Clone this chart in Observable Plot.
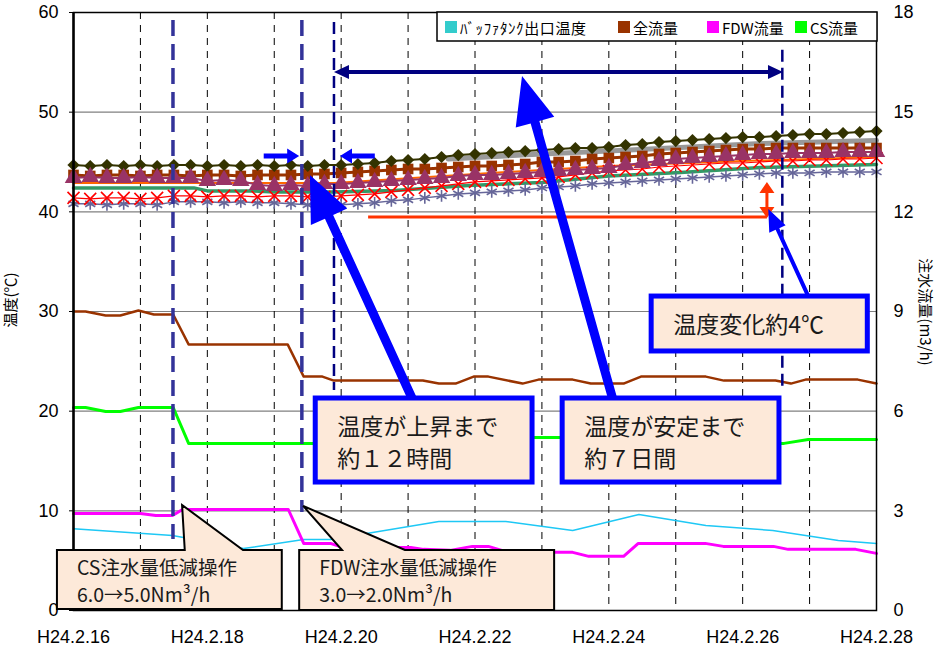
<!DOCTYPE html>
<html><head><meta charset="utf-8">
<script src="https://cdn.jsdelivr.net/npm/d3@7"></script>
<script src="https://cdn.jsdelivr.net/npm/@observablehq/plot@0.6"></script>
<style>body{margin:0;background:#fff;} #chart{width:939px;height:650px;}</style>
</head><body><div id="chart"></div>
<script>
// ---------- data ----------
const xTickDays = [0, 2, 4, 6, 8, 10, 12];
const xTickLabels = ["H24.2.16","H24.2.18","H24.2.20","H24.2.22","H24.2.24","H24.2.26","H24.2.28"];
const gridDays = [1,2,3,4,5,6,7,8,9,10,11];
const tempTicks = [0,10,20,30,40,50,60];
const gridTemps = [10,20,30,40,50];
const flowTicks = [0,3,6,9,12,15,18];

// in-core temperatures, sampled every 6 h from 2/16 0:00 (°C)
const oliveTemp = [44.7,44.6,44.7,44.6,44.7,44.6,44.7,44.7,44.6,44.7,44.6,44.7,44.6,44.7,44.6,44.7,
 44.7,44.8,44.9,45.1,45.2,45.3,45.5,45.7,45.8,45.9,46.0,46.1,46.2,46.3,46.4,46.4,46.5,46.7,46.8,47.0,47.1,47.2,47.3,47.4,47.5,47.5,47.6,47.7,47.8,47.8,47.9,48.0,48.1];
const brownTemp = [43.7,43.6,43.7,43.7,43.6,43.7,43.7,43.6,43.7,43.7,43.6,43.7,43.7,43.7,43.8,43.8,
 43.9,44.0,44.1,44.2,44.3,44.3,44.4,44.5,44.6,44.6,44.7,44.8,45.0,45.0,45.1,45.3,45.4,45.5,45.6,45.8,45.9,46.0,46.1,46.2,46.3,46.3,46.4,46.4,46.4,46.4,46.4,46.4,46.4];
const purpleTemp = [43.4,43.5,43.4,43.4,43.5,43.4,43.4,43.4,43.1,43.2,43.1,42.7,42.6,42.7,42.6,42.8,
 42.8,42.9,43.0,43.1,43.2,43.3,43.4,43.6,43.7,43.7,43.8,43.9,44.0,44.1,44.2,44.3,44.4,44.7,44.9,45.1,45.3,45.4,45.5,45.6,45.7,45.8,45.8,45.9,45.9,45.9,46.0,46.0,46.0];
const redTemp = [41.4,41.3,41.4,41.4,41.3,41.4,41.6,41.6,41.5,41.6,41.6,41.5,41.6,41.6,41.5,41.5,
 41.6,41.7,41.8,42.0,42.2,42.4,42.6,42.8,43.0,43.1,43.2,43.3,43.4,43.5,43.7,43.9,44.1,44.2,44.3,44.5,44.6,44.7,44.8,44.9,44.9,45.0,45.1,45.1,45.2,45.2,45.3,45.3,45.4];
const slateTemp = [40.8,40.8,40.7,40.8,40.8,40.7,41.0,41.0,41.0,40.9,41.0,40.9,40.9,40.8,40.7,40.7,
 40.7,40.8,40.9,41.1,41.2,41.4,41.6,41.8,41.9,42.0,42.1,42.2,42.4,42.5,42.6,42.8,42.9,43.0,43.1,43.2,43.3,43.4,43.5,43.6,43.7,43.8,43.9,43.9,43.9,44.0,44.0,44.0,44.0];

const seaGreenDays = [0,1.8,2.0,2.7,3.0,3.9,4.8,5.9,7.0,8.0,9.07,10.27,12];
const seaGreenTemp = [42.4,42.4,42.1,42.1,42.0,42.0,42.15,42.65,42.95,43.6,43.95,44.45,44.75];
const orangeDays = [0,3.9,6,8,10,12];
const orangeTemp = [42.9,42.9,43.8,44.6,45.1,45.5];
const grayDays = [5.6,7,8,9.07,10.27,12];
const grayTemp = [45.3,45.8,46.1,46.45,46.85,47.15];

// buffer tank outlet temperature (°C)
const bufferDays = [0,1.48,2.54,3.44,3.84,5.46,6.46,7.46,8.45,9.45,10.45,11.43,12];
const bufferTemp = [8.2,7.52,6.22,7.12,7.12,8.93,8.93,8.03,9.63,8.53,8.03,7.02,6.72];

// flows (m3/h)
const totalDays = [0,0.18,0.48,0.7,0.97,1.2,1.49,1.72,3.2,3.44,3.72,3.89,5.22,5.46,5.71,5.98,6.2,6.71,6.95,7.46,7.73,8.22,8.48,9.45,9.72,10.49,10.72,10.94,11.72,12];
const totalFlow = [9.0,9.0,8.88,8.88,9.03,8.91,8.91,8.01,8.01,7.04,7.04,6.92,6.92,6.83,6.83,7.04,7.04,6.83,6.95,6.95,6.83,6.83,7.04,7.04,6.92,6.92,6.83,6.95,6.95,6.83];
const csDays = [0,0.18,0.48,0.7,0.97,1.49,1.72,3.44,3.72,5.0,6.2,7.5,8.5,9.5,10.5,10.62,10.98,12];
const csFlow = [6.11,6.11,5.99,5.99,6.11,6.11,5.03,5.03,5.03,5.12,5.21,5.21,5.12,5.12,5.03,5.03,5.15,5.15];
const fdwDays = [0,1.0,1.23,1.48,1.63,3.21,3.44,3.84,4.02,5.04,5.23,5.63,5.96,6.2,6.5,7.46,7.7,8.22,8.44,9.44,9.71,10.46,10.68,11.69,12];
const fdwFlow = [2.92,2.92,2.86,2.86,3.04,3.04,2.02,2.02,1.90,1.90,1.84,1.81,1.93,1.93,1.75,1.75,1.63,1.63,2.02,2.02,1.93,1.93,1.84,1.84,1.72];

// ---------- helpers ----------
const sampleDays = d3.range(oliveTemp.length).map(i => i * 0.25);
const flowToTemp = v => v * 10 / 3;   // right axis 0-18 ↔ left axis 0-60
const rows = (days, vals, f = v => v) => days.map((d, i) => ({x: d, y: f(vals[i])}));
const olive = rows(sampleDays, oliveTemp), brown = rows(sampleDays, brownTemp),
      purple = rows(sampleDays, purpleTemp), red = rows(sampleDays, redTemp),
      slate = rows(sampleDays, slateTemp);

const plot = Plot.plot({
  width: 939, height: 650,
  marginLeft: 73, marginRight: 63, marginTop: 12, marginBottom: 40,
  style: {fontFamily: "'Liberation Sans', Arial, sans-serif", fontSize: "18px", background: "#fff", color: "#000", overflow: "visible"},
  x: {domain: [0, 12]},
  y: {domain: [0, 60]},
  marks: [
    Plot.gridY(gridTemps, {stroke: "#808080", strokeOpacity: 1, strokeWidth: 1.2}),
    Plot.gridX(gridDays, {stroke: "#000", strokeOpacity: 1, strokeWidth: 1, strokeDasharray: "7,6"}),
    Plot.line(rows(orangeDays, orangeTemp), {x: "x", y: "y", stroke: "#ff6600", strokeWidth: 2}),
    Plot.line(rows(seaGreenDays, seaGreenTemp), {x: "x", y: "y", stroke: "#339966", strokeWidth: 3.5}),
    Plot.line(rows(grayDays, grayTemp), {x: "x", y: "y", stroke: "#999999", strokeWidth: 5}),
    Plot.line(slate, {x: "x", y: "y", stroke: "#666699", strokeWidth: 1.5}),
    Plot.dot(slate, {x: "x", y: "y", symbol: "asterisk", stroke: "#666699", r: 5.5, strokeWidth: 1.6}),
    Plot.line(red, {x: "x", y: "y", stroke: "#ff0000", strokeWidth: 1.2}),
    Plot.dot(red, {x: "x", y: "y", symbol: "times", stroke: "#ff0000", r: 5.5, strokeWidth: 1.6}),
    Plot.line(brown, {x: "x", y: "y", stroke: "#993300", strokeWidth: 3}),
    Plot.dot(brown, {x: "x", y: "y", symbol: "square", fill: "#993300", r: 6}),
    Plot.line(olive, {x: "x", y: "y", stroke: "#333300", strokeWidth: 2}),
    Plot.dot(olive, {x: "x", y: "y", symbol: "diamond2", fill: "#333300", r: 5.5}),
    Plot.line(purple, {x: "x", y: "y", stroke: "#993366", strokeWidth: 2}),
    Plot.dot(purple, {x: "x", y: "y", symbol: "triangle", fill: "#993366", r: 6.5}),
    Plot.line(rows(bufferDays, bufferTemp), {x: "x", y: "y", stroke: "#1ec8f5", strokeWidth: 1.5}),
    Plot.line(rows(totalDays, totalFlow, flowToTemp), {x: "x", y: "y", stroke: "#993300", strokeWidth: 2.5}),
    Plot.line(rows(csDays, csFlow, flowToTemp), {x: "x", y: "y", stroke: "#00ff00", strokeWidth: 3}),
    Plot.line(rows(fdwDays, fdwFlow, flowToTemp), {x: "x", y: "y", stroke: "#ff00ff", strokeWidth: 3}),
    Plot.frame({stroke: "#000", strokeWidth: 1.5}),
    Plot.ruleX([0], {stroke: "#000", strokeWidth: 2.5}),
    Plot.axisY(tempTicks, {tickSize: 4, tickPadding: 11, label: null}),
    Plot.axisY(flowTicks.map(flowToTemp), {anchor: "right", tickSize: 0, tickPadding: 17, label: null,
      tickFormat: d => String(flowTicks[Math.round(d / 10)])}),
    Plot.axisX(xTickDays, {tickSize: 0, tickPadding: 20, label: null,
      tickFormat: d => xTickLabels[xTickDays.indexOf(d)]})
  ]
});
document.getElementById("chart").appendChild(plot);

// ---------- annotations (positions in data units: days, °C) ----------
const sx = plot.scale("x"), sy = plot.scale("y");
const X = v => sx.apply(v), Y = v => sy.apply(v);
const svg = d3.select(plot);
const g = svg.append("g").attr("text-anchor", "start");
const jp = "'Noto Sans CJK JP', sans-serif";

function arrowPts(x1, y1, x2, y2, w, hl, hw, both) {
  const dx = x2 - x1, dy = y2 - y1, L = Math.hypot(dx, dy), ux = dx / L, uy = dy / L, nx = -uy, ny = ux;
  const bx = x2 - ux * hl, by = y2 - uy * hl;
  let ax = x1, ay = y1;
  const pts = [];
  if (both) {
    ax = x1 + ux * hl; ay = y1 + uy * hl;
    pts.push([x1, y1], [ax - nx * hw / 2, ay - ny * hw / 2], [ax - nx * w / 2, ay - ny * w / 2]);
  } else pts.push([x1 - nx * w / 2, y1 - ny * w / 2]);
  pts.push([bx - nx * w / 2, by - ny * w / 2], [bx - nx * hw / 2, by - ny * hw / 2], [x2, y2],
           [bx + nx * hw / 2, by + ny * hw / 2], [bx + nx * w / 2, by + ny * w / 2]);
  if (both) pts.push([ax + nx * w / 2, ay + ny * w / 2], [ax + nx * hw / 2, ay + ny * hw / 2]);
  else pts.push([x1 + nx * w / 2, y1 + ny * w / 2]);
  return pts.map(p => p.join(",")).join(" ");
}
function arrow(a, color, w, hl, hw, both) {
  g.append("polygon").attr("points", arrowPts(X(a.from[0]), Y(a.from[1]), X(a.to[0]), Y(a.to[1]), w, hl, hw, both))
    .attr("fill", color);
}

// operation lines and period lines
const opLines = [{day: 1.494, t1: 59.2, t2: 7.13}, {day: 3.42, t1: 59.2, t2: 9.83}];
const periodLines = [{day: 3.90, t1: 59.0, t2: 22.07}, {day: 10.6, t1: 56.2, t2: 22.07}];
opLines.forEach(l => g.append("line").attr("x1", X(l.day)).attr("x2", X(l.day)).attr("y1", Y(l.t1)).attr("y2", Y(l.t2))
  .attr("stroke", "#333399").attr("stroke-width", 3.5).attr("stroke-dasharray", "16,8"));
periodLines.forEach(l => g.append("line").attr("x1", X(l.day)).attr("x2", X(l.day)).attr("y1", Y(l.t1)).attr("y2", Y(l.t2))
  .attr("stroke", "#000080").attr("stroke-width", 2.5).attr("stroke-dasharray", "12,6"));

// period double arrow
arrow({from: [3.90, 53.98], to: [10.61, 53.98]}, "#000080", 4, 15, 14, true);
// small arrows bracketing 12 h
arrow({from: [2.85, 45.55], to: [3.38, 45.55]}, "#0000ff", 5, 12, 15);
arrow({from: [4.51, 45.55], to: [3.99, 45.55]}, "#0000ff", 5, 12, 15);
// temperature change marker
g.append("line").attr("x1", X(4.41)).attr("x2", X(10.37)).attr("y1", Y(39.43)).attr("y2", Y(39.43))
  .attr("stroke", "#ff3300").attr("stroke-width", 3);
arrow({from: [10.37, 39.33], to: [10.37, 42.94]}, "#ff3300", 3, 11, 15, true);

// callout arrows
arrow({from: [5.08, 21.07], to: [3.54, 43.65]}, "#0000ff", 9, 46, 40);
arrow({from: [8.07, 21.07], to: [6.71, 53.58]}, "#0000ff", 9, 48, 40);
arrow({from: [10.98, 31.6], to: [10.39, 40.23]}, "#0000ff", 4, 22, 18);

// blue-framed boxes
const blueBoxes = [
  {d1: 3.62, d2: 6.86, t1: 21.27, t2: 12.84, lines: ["温度が上昇まで", "約１２時間"]},
  {d1: 7.31, d2: 10.55, t1: 21.27, t2: 12.84, lines: ["温度が安定まで", "約７日間"]},
  {d1: 8.64, d2: 11.87, t1: 31.5, t2: 25.99, lines: ["温度変化約4℃"]}
];
blueBoxes.forEach(b => {
  const x0 = X(b.d1), y0 = Y(b.t1);
  g.append("rect").attr("x", x0).attr("y", y0).attr("width", X(b.d2) - x0).attr("height", Y(b.t2) - y0)
    .attr("fill", "#fde9d9").attr("stroke", "#0000ff").attr("stroke-width", 5);
  b.lines.forEach((s, i) => g.append("text").attr("x", x0 + 22).attr("y", y0 + 37 + i * 32)
    .attr("text-anchor", "start").attr("font-family", jp).attr("font-size", 23).attr("fill", "#1a1a1a").text(s));
});

// speech bubbles for operations
const bubbles = [
  {d1: -0.24, d2: 3.12, t1: 6.02, t2: 0.10, tip: [1.63, 10.54], base: [1.67, 2.54], lines: ["CS注水量低減操作", "6.0→5.0Nm³/h"]},
  {d1: 3.38, d2: 7.19, t1: 6.02, t2: 0.0, tip: [3.44, 10.44], base: [4.02, 4.96], lines: ["FDW注水量低減操作", "3.0→2.0Nm³/h"]}
];
bubbles.forEach(b => {
  const x0 = X(b.d1), x1 = X(b.d2), y0 = Y(b.t1), y1 = Y(b.t2);
  const pts = [[x0, y0], [X(b.base[0]), y0], [X(b.tip[0]), Y(b.tip[1])], [X(b.base[1]), y0], [x1, y0], [x1, y1], [x0, y1]];
  g.append("polygon").attr("points", pts.map(p => p.join(",")).join(" "))
    .attr("fill", "#fde9d9").attr("stroke", "#000").attr("stroke-width", 2).attr("stroke-linejoin", "miter");
  b.lines.forEach((s, i) => g.append("text").attr("x", x0 + 20).attr("y", y0 + 25 + i * 27)
    .attr("text-anchor", "start").attr("font-family", jp).attr("font-size", 19.5).attr("fill", "#1a1a1a").text(s));
});

// axis titles
svg.append("text").attr("transform", "translate(16,300) rotate(-90)").attr("text-anchor", "middle")
  .attr("font-family", jp).attr("font-size", 15).text("温度(℃)");
svg.append("text").attr("transform", "translate(920,312) rotate(90)").attr("text-anchor", "middle")
  .attr("font-family", jp).attr("font-size", 15).text("注水流量(m3/h)");

// legend
const legendItems = [
  {label: "ﾊﾞｯﾌｧﾀﾝｸ出口温度", color: "#33cccc"},
  {label: "全流量", color: "#993300"},
  {label: "FDW流量", color: "#ff00ff"},
  {label: "CS流量", color: "#00ff00"}
];
const legendX = [445, 618, 707, 795];
const lg = svg.append("g").attr("text-anchor", "start");
lg.append("rect").attr("x", 437).attr("y", 12).attr("width", 440).attr("height", 29)
  .attr("fill", "#fff").attr("stroke", "#000").attr("stroke-width", 1.5);
legendItems.forEach((it, i) => {
  lg.append("rect").attr("x", legendX[i]).attr("y", 21).attr("width", 12).attr("height", 12).attr("fill", it.color);
  lg.append("text").attr("x", legendX[i] + 15).attr("y", 34).attr("text-anchor", "start").attr("font-family", jp).attr("font-size", 15)
    .attr("letter-spacing", i === 0 ? 0.6 : 0).text(it.label);
});
</script></body></html>
